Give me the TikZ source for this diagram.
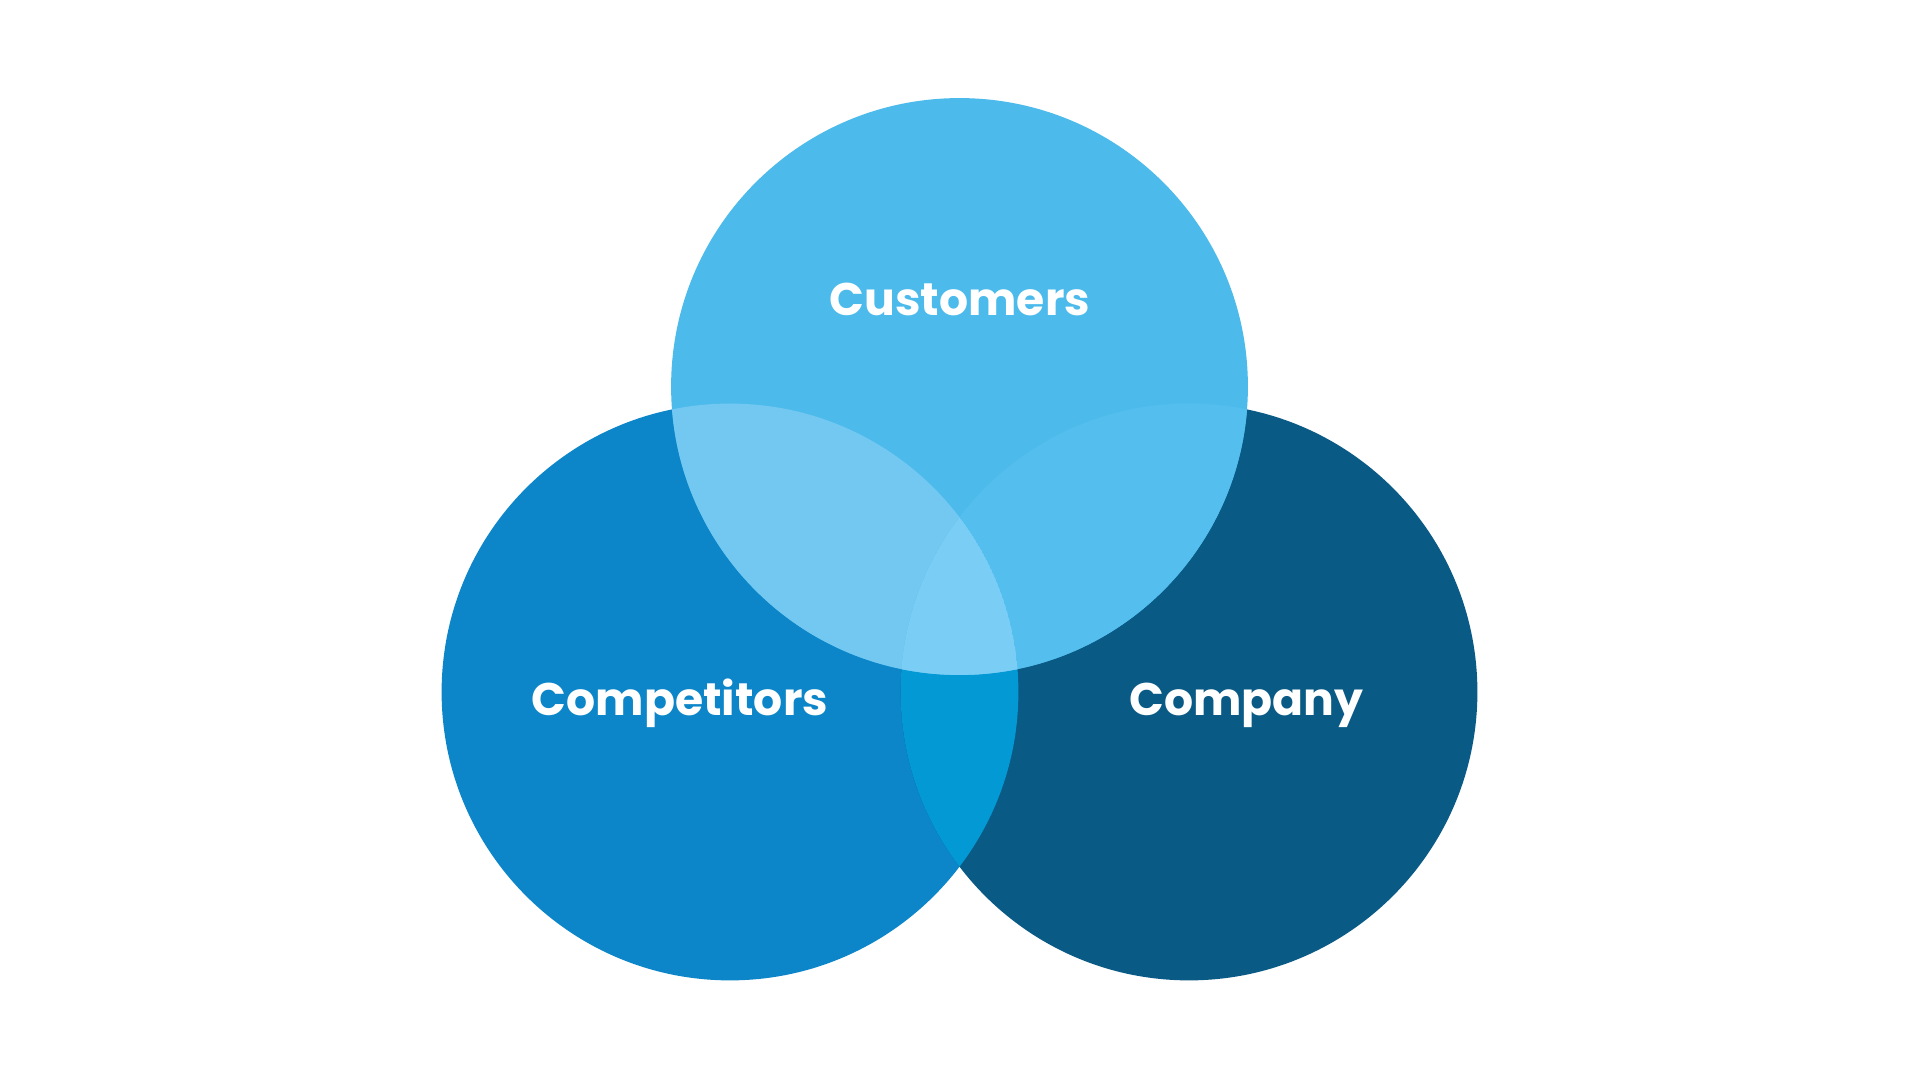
\documentclass[tikz,border=0pt]{standalone}
\usepackage{fontspec}
\setmainfont{Poppins}
\usetikzlibrary{positioning}
\definecolor{custblue}{HTML}{4CBBEB}
\definecolor{compblue}{HTML}{0C86C8}
\definecolor{firmblue}{HTML}{0A5A86}
\definecolor{custcomp}{HTML}{73C8F1}
\definecolor{custfirm}{HTML}{54BFEE}
\definecolor{compfirm}{HTML}{0399D5}
\definecolor{allthree}{HTML}{7ACDF4}

\begin{document}
\begin{tikzpicture}[
  vennlabel/.style={text=white, anchor=base, inner sep=0pt,
                    font=\bfseries\fontsize{13}{15}\selectfont}
]
\useasboundingbox (0,0) rectangle (19.2,10.8);
\fill[white] (0,0) rectangle (19.2,10.8);

\def\rad{2.884}
\coordinate (cust) at (9.595,6.935);
\coordinate (comp) at (7.300,3.880);
\coordinate (firm) at (11.890,3.880);

% bottom circles
\fill[compblue] (comp) circle (\rad);
\fill[firmblue] (firm) circle (\rad);
\begin{scope}
  \clip (comp) circle (\rad);
  \fill[compfirm] (firm) circle (\rad);
\end{scope}

% top circle and its overlaps
\fill[custblue] (cust) circle (\rad);
\begin{scope}
  \clip (cust) circle (\rad);
  \fill[custcomp] (comp) circle (\rad);
  \begin{scope}
    \clip (firm) circle (\rad);
    \fill[custfirm] (firm) circle (\rad);
    \clip (comp) circle (\rad);
    \fill[allthree] (comp) circle (\rad);
  \end{scope}
\end{scope}

% labels
\node[vennlabel] (custtxt) at (9.60,7.64) {Customers};
\node[vennlabel] (comptxt) at (6.80,3.64) {Competitors};
\node[vennlabel] (firmtxt) at (12.465,3.64) {Company};
\end{tikzpicture}
\end{document}
